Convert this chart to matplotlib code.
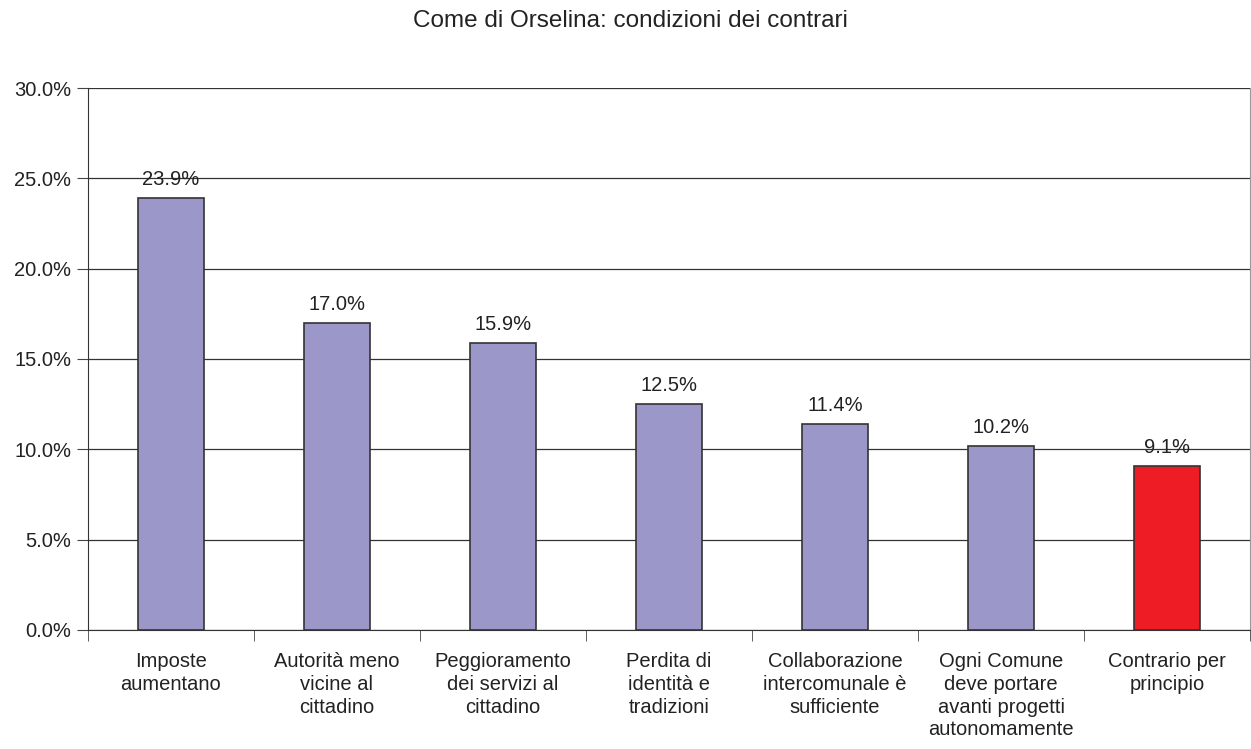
import matplotlib
matplotlib.use('Agg')
import matplotlib.pyplot as plt
import numpy as np

plt.rcParams['font.family'] = ['Liberation Sans', 'DejaVu Sans']

categorie = ['Imposte\naumentano', 'Autorità meno\nvicine al\ncittadino',
             'Peggioramento\ndei servizi al\ncittadino', 'Perdita di\nidentità e\ntradizioni',
             'Collaborazione\nintercomunale è\nsufficiente',
             'Ogni Comune\ndeve portare\navanti progetti\nautonomamente',
             'Contrario per\nprincipio']
valori = [23.9, 17.0, 15.9, 12.5, 11.4, 10.2, 9.1]
colori = ['#9b97c9'] * 6 + ['#ee1c25']

fs = 14.5
fig = plt.figure(figsize=(12.51, 7.49), dpi=100)
ax = fig.add_axes([0.0703, 0.1589, 0.9290, 0.7236])

x = np.arange(len(valori))
ax.set_axisbelow(True)
ax.yaxis.grid(True, color='#333333', linewidth=0.9)
ax.bar(x, valori, width=0.4, color=colori, edgecolor='#333333', linewidth=1.2, zorder=3)

for xi, v in zip(x, valori):
    ax.text(xi, v + 0.5, '%.1f%%' % v, ha='center', va='bottom', fontsize=fs, color='#222222')

ax.set_xlim(-0.5, len(valori) - 0.5)
ax.set_ylim(0, 30)
ax.set_yticks(np.arange(0, 30.1, 5))
ax.set_yticklabels(['%.1f%%' % t for t in np.arange(0, 30.1, 5)], fontsize=fs, color='#222222')
ax.set_xticks(x)
ax.set_xticklabels(categorie, fontsize=fs, color='#222222', linespacing=1.25)
ax.tick_params(axis='x', which='major', length=0, pad=16)
ax.set_xticks(np.arange(-0.5, len(valori)), minor=True)
ax.tick_params(axis='x', which='minor', length=8, color='#444444')
ax.tick_params(axis='y', length=8, color='#444444', pad=4)

ax.spines['top'].set_visible(False)
ax.spines['right'].set_color('#999999')
ax.spines['left'].set_color('#333333')
ax.spines['bottom'].set_color('#333333')

fig.text(630 / 1251, 1 - 21 / 749, 'Come di Orselina: condizioni dei contrari',
         ha='center', va='center', fontsize=17.5, color='#222222')

fig.savefig('out.png', dpi=100)
